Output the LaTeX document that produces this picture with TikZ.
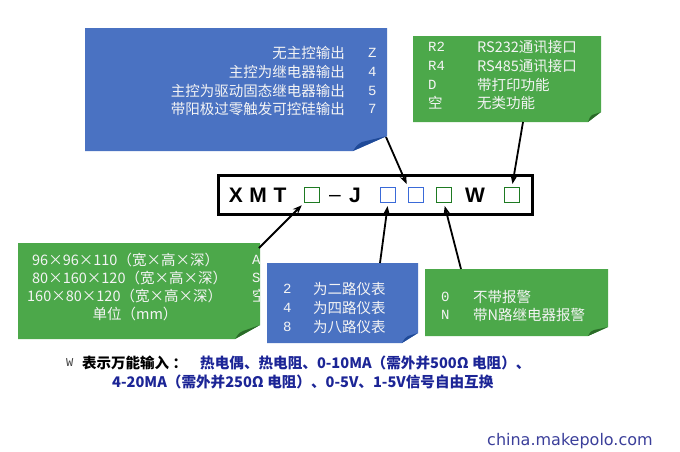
\documentclass[tikz,border=0pt]{standalone}
\usepackage{fontspec}
\usepackage{xcolor}
\usetikzlibrary{arrows.meta, calc}
\newfontfamily\cjk{Noto Sans CJK SC}
\newfontfamily\arialf{Liberation Sans}
\newfontfamily\monof{Liberation Mono}
\newfontfamily\webf{DejaVu Sans}
\definecolor{boxblue}{HTML}{4A72C2}
\definecolor{foldblue}{HTML}{1F4A98}
\definecolor{boxgreen}{HTML}{4CA84A}
\definecolor{foldgreen}{HTML}{2A6A28}
\definecolor{sqgreen}{HTML}{1E7A22}
\definecolor{sqblue}{HTML}{3A6AD8}
\definecolor{notetext}{HTML}{1C2596}
\definecolor{webtext}{HTML}{3B3F9A}
\definecolor{boxtext}{HTML}{F4F4F4}

\begin{document}
\begin{tikzpicture}[x=1pt, y=-1pt,
  boxline/.style={anchor=west, inner sep=0, text=boxtext, font=\cjk\fontsize{14.5pt}{17pt}\selectfont},
  boxcode/.style={anchor=west, inner sep=0, text=boxtext, font=\monof\fontsize{14pt}{16pt}\selectfont},
  letter/.style={inner sep=0, font=\arialf\bfseries\fontsize{21pt}{24pt}\selectfont},
  slot/.style={draw, line width=1.3pt, minimum size=15pt, inner sep=0, fill=white},
  pointer/.style={line width=1.8pt, -{Stealth[length=9pt, width=7pt]}, shorten >=3pt}]

  % Fix the page to the reference size
  \useasboundingbox (0,0) rectangle (680,451);

  % Top blue box (output type)
  \fill[boxblue] (85,28) -- (387,28) -- (387,136) -- (353,151) -- (85,151) -- cycle;
  \fill[foldblue] (353,151) .. controls (357,145) .. (362,142) -- (387,136) -- cycle;
  \node[boxline, anchor=east] (out1) at (345,53) {无主控输出};
  \node[boxline, anchor=east] (out2) at (345,72) {主控为继电器输出};
  \node[boxline, anchor=east] (out3) at (345,91) {主控为驱动固态继电器输出};
  \node[boxline, anchor=east] (out4) at (345,109) {带阳极过零触发可控硅输出};
  \node[boxcode] (outz) at (368,53) {Z};
  \node[boxcode] (out4c) at (368,72) {4};
  \node[boxcode] (out5c) at (368,91) {5};
  \node[boxcode] (out7c) at (368,109) {7};
  \coordinate (outtip) at (386,137);

  % Top green box (options)
  \fill[boxgreen] (413,36) -- (601,36) -- (601,112) -- (588,122) -- (413,122) -- cycle;
  \fill[foldgreen] (588,122) .. controls (590,117) .. (592,115) -- (601,112) -- cycle;
  \node[boxcode] (optr2) at (428,47) {R2};
  \node[boxcode] (optr4) at (428,66) {R4};
  \node[boxcode] (optd) at (428,85) {D};
  \node[boxline] (optk) at (428,103) {空};
  \node[boxline] (opt1) at (477,47) {RS232通讯接口};
  \node[boxline] (opt2) at (477,66) {RS485通讯接口};
  \node[boxline] (opt3) at (477,85) {带打印功能};
  \node[boxline] (opt4) at (477,103) {无类功能};
  \coordinate (opttip) at (523,122);

  % Model code frame
  \node[draw, line width=2.6pt, minimum width=314pt, minimum height=39pt, inner sep=0] (codebox) at (375.5,195) {};
  \node[letter] (lx) at (236,195) {X};
  \node[letter] (lm) at (258,195) {M};
  \node[letter] (lt) at (280,195) {T};
  \node[slot, draw=sqgreen] (sq1) at (312,195) {};
  \node[inner sep=0, anchor=base, font=\arialf\fontsize{21pt}{24pt}\selectfont] (ldash) at (335,201) {–};
  \node[letter] (lj) at (355,195) {J};
  \node[slot, draw=sqblue] (sq2) at (388,195) {};
  \node[slot, draw=sqblue] (sq3) at (416,195) {};
  \node[slot, draw=sqgreen] (sq4) at (444,195) {};
  \node[letter] (lw) at (475,195) {W};
  \node[slot, draw=sqgreen] (sq5) at (512,195) {};

  % Left green box (case size)
  \fill[boxgreen] (18,243) -- (260,243) -- (260,325) -- (235,339) -- (18,339) -- cycle;
  \fill[foldgreen] (235,339) .. controls (239,333) .. (243,331) -- (260,325) -- cycle;
  \begin{scope}
    \clip (18,243) rectangle (259,339);
    \node[boxline] (size1) at (32,260) {96×96×110（宽×高×深）};
    \node[boxline] (size2) at (32,278) {80×160×120（宽×高×深）};
    \node[boxline] (size3) at (27,296) {160×80×120（宽×高×深）};
    \node[boxline, anchor=center] (size4) at (135,314) {单位（mm）};
    \node[boxcode] (sizea) at (252,260) {A};
    \node[boxcode] (sizes) at (252,278) {S};
    \node[boxline] (sizek) at (252,296) {空};
  \end{scope}
  \coordinate (sizetip) at (259,248);

  % Middle blue box (channels)
  \fill[boxblue] (267,263) -- (418,263) -- (418,333) -- (402,343) -- (267,343) -- cycle;
  \fill[foldblue] (402,343) .. controls (405,338) .. (408,336) -- (418,333) -- cycle;
  \node[boxcode] (ch2) at (283,289) {2};
  \node[boxcode] (ch4) at (283,308) {4};
  \node[boxcode] (ch8) at (283,327) {8};
  \node[boxline] (ch2t) at (313,289) {为二路仪表};
  \node[boxline] (ch4t) at (313,308) {为四路仪表};
  \node[boxline] (ch8t) at (313,327) {为八路仪表};
  \coordinate (chtip) at (380,263);

  % Right green box (alarm)
  \fill[boxgreen] (425,269) -- (608,269) -- (608,327) -- (588,336) -- (425,336) -- cycle;
  \fill[foldgreen] (588,336) .. controls (591,331) .. (594,330) -- (608,327) -- cycle;
  \node[boxcode] (al0) at (441,297) {0};
  \node[boxcode] (aln) at (441,315) {N};
  \node[boxline] (al0t) at (473,297) {不带报警};
  \node[boxline] (alnt) at (473,315) {带N路继电器报警};
  \coordinate (altip) at (461,269);

  % Pointers
  \draw[pointer] (outtip) -- (sq3.north west);
  \draw[pointer] (opttip) -- (sq5.north);
  \draw[pointer] (sizetip) -- (sq1.south west);
  \draw[pointer] (chtip) -- (sq2.south);
  \draw[pointer] (altip) -- (sq4.south);

  % Input note
  \node[anchor=west, inner sep=0, text=black!75, font=\monof\fontsize{12pt}{14pt}\selectfont] (notew) at (66,363) {W};
  \node[anchor=west, inner sep=0, font=\cjk\bfseries\fontsize{14.5pt}{17pt}\selectfont] (notehead) at (82,363) {表示万能输入 ：};
  \node[anchor=west, inner sep=0, text=notetext, font=\cjk\bfseries\fontsize{14.6pt}{17pt}\selectfont] (note1) at (200,363) {热电偶、热电阻、0-10MA（需外并500Ω 电阻）、};
  \node[anchor=west, inner sep=0, text=notetext, font=\cjk\bfseries\fontsize{14.6pt}{17pt}\selectfont] (note2) at (112,382) {4-20MA（需外并250Ω 电阻）、0-5V、1-5V信号自由互换};

  % Source mark
  \node[anchor=west, inner sep=0, text=webtext, font=\webf\fontsize{16pt}{19pt}\selectfont] (web) at (487,441) {china.makepolo.com};

\end{tikzpicture}
\end{document}
